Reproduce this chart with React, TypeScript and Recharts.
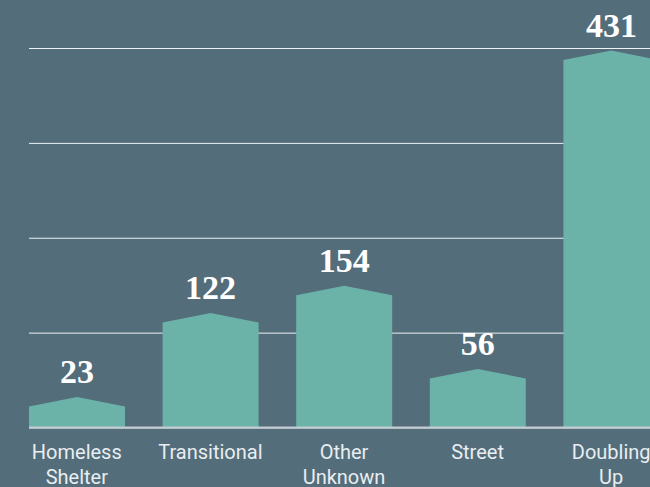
import React from "react";
import { BarChart, Bar, XAxis, YAxis, CartesianGrid, ReferenceLine, LabelList } from "recharts";

const categories = ["Homeless Shelter", "Transitional", "Other Unknown", "Street", "Doubling Up"];
const counts = [23, 122, 154, 56, 431];
const yTicks = [0, 111.75, 223.5, 335.25, 447];

const data = categories.map((category, i) => ({ category, count: counts[i] }));

const BG = "#546d7a";
const BAR = "#6bb2a9";
const PEAK = 9.5;
const LIFT = 2;

const HouseBar = (p: any) => {
  const { x, y, width, height } = p;
  if (height == null || width == null) return null;
  const top = y - LIFT;
  const d = `M${x},${y + height} L${x},${top} L${x + width / 2},${top - PEAK} L${x + width},${top} L${x + width},${y + height} Z`;
  return <path d={d} fill={BAR} />;
};

const ValueLabel = (p: any) => {
  const { x, y, width, value } = p;
  return (
    <text
      x={x + width / 2}
      y={y - LIFT - 23}
      textAnchor="middle"
      fill="#ffffff"
      style={{ fontFamily: "'Liberation Serif', serif", fontWeight: 700, fontSize: 34 }}
    >
      {value}
    </text>
  );
};

const CatTick = (p: any) => {
  const { x, y, payload } = p;
  const lines = String(payload.value).split(" ");
  return (
    <text
      x={x}
      y={y + 30.5}
      textAnchor="middle"
      fill="#e8eef1"
      style={{ fontFamily: "Roboto, sans-serif", fontSize: 20 }}
    >
      {lines.map((l, i) => (
        <tspan key={i} x={x} dy={i === 0 ? 0 : 25.3}>
          {l}
        </tspan>
      ))}
    </text>
  );
};

const GridLine = (p: any) => (
  <line key={p.key} x1={p.x1 + 19} y1={p.y1} x2={p.x2} y2={p.y2} stroke="#eef3f5" strokeWidth={1} />
);

const Baseline = (p: any) => (
  <line x1={p.x1 + 19} y1={p.y1 - 0.5} x2={p.x2} y2={p.y2 - 0.5} stroke="#c3ccd1" strokeWidth={2} />
);

export default function App() {
  return (
    <div
      style={{
        position: "absolute",
        left: 0,
        top: 0,
        width: 650,
        height: 487,
        overflow: "hidden",
        background: BG,
      }}
    >
      <BarChart
        width={680}
        height={487}
        data={data}
        margin={{ top: 48.5, right: 2, bottom: 0, left: 10 }}
      >
        <CartesianGrid vertical={false} horizontal={GridLine as any} />
        <XAxis
          dataKey="category"
          axisLine={false}
          tickLine={false}
          tickSize={0}
          tickMargin={0}
          height={59}
          interval={0}
          tick={CatTick}
        />
        <YAxis hide domain={[0, 447]} ticks={yTicks} />
        <Bar dataKey="count" barSize={96} shape={HouseBar} isAnimationActive={false}>
          <LabelList dataKey="count" content={ValueLabel} />
        </Bar>
        <ReferenceLine y={0} shape={Baseline} ifOverflow="visible" />
      </BarChart>
    </div>
  );
}
